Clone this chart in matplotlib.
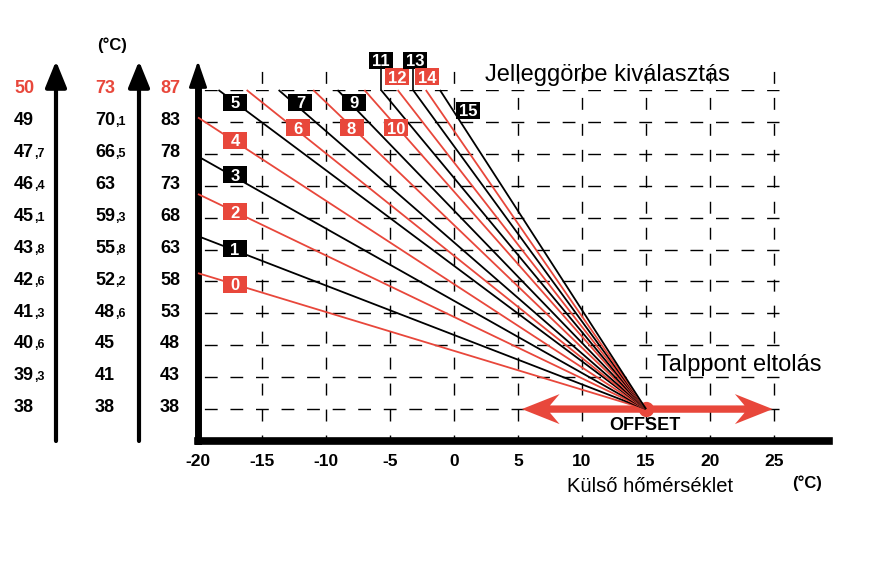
"""
Heating curve selector (Jelleggörbe) chart
"""
import matplotlib
matplotlib.use("Agg")
import matplotlib.pyplot as plt
import matplotlib.transforms as mtransforms
from matplotlib.patches import Rectangle, Polygon

RED = "#e8473b"
W, H = 873, 584

plt.rcParams["font.family"] = ["Liberation Sans", "DejaVu Sans"]

# outside temperature axis
outside_ticks = [-20, -15, -10, -5, 0, 5, 10, 15, 20, 25]
grid_x = [-15, -10, -5, 0, 5, 10, 15, 20, 25]
rows = [0, 1, 2, 3, 4, 5, 6, 7, 8, 9, 10]

# flow temperature scales, bottom row to top row
scale_a = ["38", "39,3", "40,6", "41,3", "42,6", "43,8", "45,1", "46,4", "47,7", "49", "50"]
scale_b = ["38", "41", "45", "48,6", "52,2", "55,8", "59,3", "63", "66,5", "70,1", "73"]
scale_c = ["38", "43", "48", "53", "58", "63", "68", "73", "78", "83", "87"]

# curves: upper-left end (outside temp, row); all meet at the offset point
curve_ids = [0, 1, 2, 3, 4, 5, 6, 7, 8, 9, 10, 11, 12, 13, 14, 15]
curve_x0 = [-20, -20, -20, -20, -20, -18.4, -16.2, -13.7, -11.0, -9.1, -7.0,
            -5.7, -4.4, -3.2, -2.2, -1.1]
curve_y0 = [4.26, 5.42, 6.74, 7.92, 9.14, 10, 10, 10, 10, 10, 10,
            10, 10, 10, 10, 10]
label_x = [-17.1, -17.1, -17.1, -17.1, -17.1, -17.1, -12.2, -12.0, -8.0, -7.8, -4.5,
           -5.7, -4.45, -3.05, -2.1, 1.1]
label_y = [3.92, 5.02, 6.18, 7.34, 8.43, 9.62, 8.81, 9.62, 8.81, 9.62, 8.81,
           10.94, 10.41, 10.94, 10.41, 9.37]
leader_ids = [11, 13]

offset_point = (15, 0)
offset_span = (5.3, 24.9)


def px(x, y):
	"""pixel position -> figure fraction"""
	return x / W, 1 - y / H


fig = plt.figure(figsize=(W / 100, H / 100), dpi=100)
ax = fig.add_axes([198 / W, 1 - 441 / H, 631 / W, 351 / H])
ax.set_xlim(-20, 29.3)
ax.set_ylim(-1, 10)
tr = mtransforms.blended_transform_factory(fig.transFigure, ax.transData)

# axes frame
for side in ("top", "right"):
	ax.spines[side].set_visible(False)
ax.spines["left"].set_linewidth(5)
ax.spines["bottom"].set_linewidth(5.5)
for side in ("left", "bottom"):
	ax.spines[side].set_capstyle("projecting")
ax.set_yticks([])
ax.set_xticks(outside_ticks, labels=[str(v) for v in outside_ticks])
ax.tick_params(axis="x", length=0, pad=9, labelsize=12.5)
for lbl in ax.get_xticklabels():
	lbl.set_fontweight("bold")

# dashed grid
for gx in grid_x:
	ax.plot([gx, gx], [-1, 10.63], color="black", lw=1,
			linestyle=(4.3, (8.6, 10.1)), clip_on=False, zorder=1.5)
for r in rows:
	ax.plot([-20, 25.4], [r, r], color="black", lw=1,
			linestyle=(13.8, (9.2, 9.2)), zorder=1.5)

# offset arrow + dot
ox, oy = offset_point
left, right = offset_span
hl, hn, hw, sw = 2.95, 2.2, 0.47, 0.115
arrow = Polygon([
	(left, oy), (left + hl, oy + hw), (left + hn, oy + sw),
	(right - hn, oy + sw), (right - hl, oy + hw), (right, oy),
	(right - hl, oy - hw), (right - hn, oy - sw),
	(left + hn, oy - sw), (left + hl, oy - hw)],
	closed=True, facecolor=RED, edgecolor="none", zorder=2)
ax.add_patch(arrow)
ax.plot([ox], [oy], "o", ms=11, color=RED, mec="none", zorder=2)

# heating curves
for cid, x0, y0 in zip(curve_ids, curve_x0, curve_y0):
	col = RED if cid % 2 == 0 else "black"
	ax.plot([x0, ox], [y0, oy], color=col, lw=1.3, zorder=3,
			solid_capstyle="butt", clip_on=False)

# curve number boxes
bw, bh = 24 / 12.8, 17 / 31.9
for cid, lx, ly in zip(curve_ids, label_x, label_y):
	col = RED if cid % 2 == 0 else "black"
	ax.add_patch(Rectangle((lx - bw / 2, ly - bh / 2), bw, bh, facecolor=col,
						   edgecolor="none", zorder=4, clip_on=False))
	ax.text(lx, ly, str(cid), color="white", fontsize=12, fontweight="bold",
			ha="center", va="center_baseline", zorder=5, clip_on=False)
for cid in leader_ids:
	x0 = curve_x0[cid]
	ax.plot([x0, x0], [curve_y0[cid], label_y[cid] - bh / 2], color="black",
			lw=1.2, zorder=3, clip_on=False)

# temperature scale columns with arrows
for xpx, labels in ((14, scale_a), (95, scale_b), (160, scale_c)):
	for r, txt in zip(rows, labels):
		col = RED if r == rows[-1] else "black"
		main, _, frac = txt.partition(",")
		t = ax.text(xpx / W, r - 0.1, main, transform=tr, color=col,
					fontsize=13, fontweight="bold", ha="left", va="baseline")
		if frac:
			ax.annotate("," + frac, xy=(1, r - 0.1), xycoords=(t, tr), color=col,
						fontsize=9, fontweight="bold", ha="left", va="baseline")

for xpx in (56, 139):
	ax.annotate("", xy=(xpx / W, 10.91), xycoords=tr, xytext=(xpx / W, -1),
				textcoords=tr, annotation_clip=False,
				arrowprops=dict(arrowstyle="-|>,head_length=1.6,head_width=0.65",
								color="black", lw=3, shrinkA=0, shrinkB=0))
ax.annotate("", xy=(-20, 10.91), xytext=(-20, 9.9), annotation_clip=False,
			arrowprops=dict(arrowstyle="-|>,head_length=1.6,head_width=0.55",
							color="black", lw=2, shrinkA=0, shrinkB=0))

# texts
fig.text(*px(112, 45), "(°C)", fontsize=12, fontweight="bold", ha="center", va="center")
fig.text(*px(485, 75), "Jelleggörbe kiválasztás", fontsize=17, ha="left", va="center")
fig.text(*px(657, 365), "Talppont eltolás", fontsize=17, ha="left", va="center")
fig.text(*px(645, 426), "OFFSET", fontsize=13, fontweight="bold", ha="center",
		 va="center", zorder=1)
fig.text(*px(567, 486), "Külső hőmérséklet", fontsize=14.5, ha="left", va="center")
fig.text(*px(792, 483), "(°C)", fontsize=12, fontweight="bold", ha="left", va="center")

fig.savefig("out.png", dpi=100)
